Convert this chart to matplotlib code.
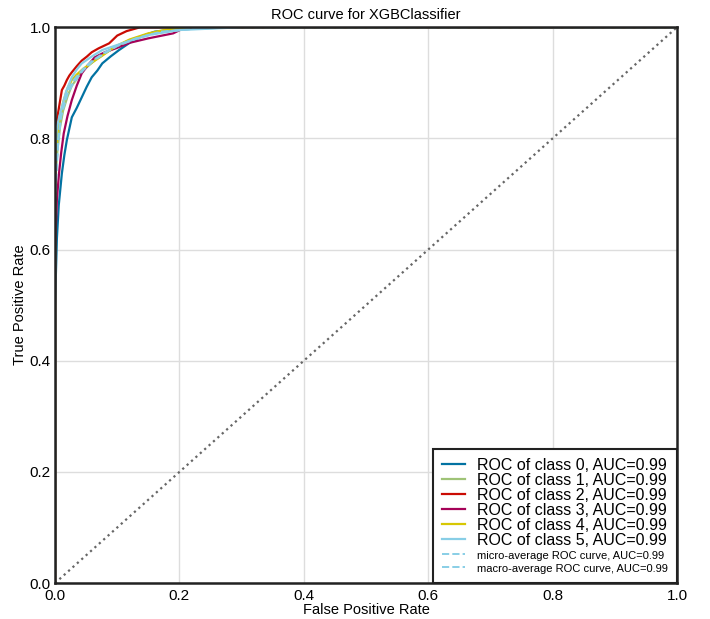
import matplotlib
matplotlib.use('Agg')
import matplotlib.pyplot as plt

plt.rcParams['font.family'] = ['Liberation Sans', 'DejaVu Sans']

# ROC points (fpr, tpr) per class
fpr_0 = [0, 0, 0.003, 0.006, 0.011, 0.015, 0.019, 0.027, 0.035, 0.043, 0.051, 0.059, 0.068, 0.076, 0.09, 0.103, 0.12, 0.14, 0.16, 0.2, 0.3, 1.0]
tpr_0 = [0, 0.50, 0.62, 0.68, 0.737, 0.77, 0.797, 0.838, 0.855, 0.874, 0.893, 0.91, 0.922, 0.935, 0.948, 0.959, 0.972, 0.984, 0.992, 0.997, 1.0, 1.0]

fpr_1 = [0, 0, 0.004, 0.008, 0.013, 0.02, 0.027, 0.035, 0.043, 0.055, 0.068, 0.08, 0.1, 0.12, 0.15, 0.18, 0.22, 1.0]
tpr_1 = [0, 0.72, 0.78, 0.82, 0.85, 0.875, 0.895, 0.907, 0.92, 0.932, 0.944, 0.953, 0.966, 0.977, 0.988, 0.995, 1.0, 1.0]

fpr_2 = [0, 0, 0.003, 0.007, 0.011, 0.015, 0.019, 0.023, 0.027, 0.035, 0.043, 0.051, 0.059, 0.07, 0.087, 0.1, 0.115, 0.137, 1.0]
tpr_2 = [0, 0.80, 0.833, 0.86, 0.887, 0.895, 0.905, 0.913, 0.919, 0.93, 0.94, 0.947, 0.955, 0.962, 0.971, 0.985, 0.993, 1.0, 1.0]

fpr_3 = [0, 0, 0.003, 0.0064, 0.01, 0.014, 0.02, 0.027, 0.035, 0.043, 0.053, 0.064, 0.08, 0.1, 0.12, 0.15, 0.19, 0.21, 1.0]
tpr_3 = [0, 0.60, 0.69, 0.737, 0.775, 0.809, 0.84, 0.869, 0.895, 0.917, 0.932, 0.946, 0.955, 0.963, 0.972, 0.98, 0.989, 1.0, 1.0]

fpr_4 = [0, 0, 0.004, 0.008, 0.013, 0.02, 0.027, 0.035, 0.045, 0.06, 0.075, 0.09, 0.1, 0.12, 0.15, 0.18, 0.22, 1.0]
tpr_4 = [0, 0.76, 0.81, 0.84, 0.865, 0.89, 0.905, 0.915, 0.925, 0.937, 0.948, 0.96, 0.967, 0.978, 0.989, 0.996, 1.0, 1.0]

fpr_5 = [0, 0, 0.003, 0.007, 0.011, 0.018, 0.027, 0.035, 0.043, 0.06, 0.076, 0.1, 0.124, 0.15, 0.2, 0.3, 1.0]
tpr_5 = [0, 0.78, 0.82, 0.84, 0.856, 0.885, 0.91, 0.924, 0.935, 0.948, 0.959, 0.968, 0.977, 0.986, 0.995, 1.0, 1.0]

fpr_micro = [0, 0, 0.005, 0.01, 0.02, 0.03, 0.045, 0.06, 0.08, 0.1, 0.13, 0.17, 0.25, 1.0]
tpr_micro = [0, 0.70, 0.80, 0.85, 0.885, 0.905, 0.925, 0.94, 0.955, 0.967, 0.98, 0.992, 1.0, 1.0]

fpr_macro = [0, 0, 0.005, 0.01, 0.02, 0.03, 0.045, 0.06, 0.08, 0.1, 0.13, 0.17, 0.25, 1.0]
tpr_macro = [0, 0.69, 0.79, 0.84, 0.88, 0.90, 0.922, 0.938, 0.953, 0.966, 0.979, 0.991, 1.0, 1.0]

aucs = [0.99, 0.99, 0.99, 0.99, 0.99, 0.99]
auc_micro = 0.99
auc_macro = 0.99

colors = ['#0272a2', '#9fc377', '#ca0b03', '#a50258', '#d7c703', '#88cee6']

curves = [(fpr_0, tpr_0), (fpr_1, tpr_1), (fpr_2, tpr_2),
          (fpr_3, tpr_3), (fpr_4, tpr_4), (fpr_5, tpr_5)]

fig = plt.figure(figsize=(7.1, 6.19), dpi=100)
ax = fig.add_axes([0.0775, 0.058, 0.876, 0.898])

for i, (f, t) in enumerate(curves):
    ax.plot(f, t, color=colors[i], lw=1.6, label='ROC of class {}, AUC={:.2f}'.format(i, aucs[i]))

ax.plot(fpr_micro, tpr_micro, linestyle='--', color=colors[-1], lw=1.4,
        label='micro-average ROC curve, AUC={:.2f}'.format(auc_micro))
ax.plot(fpr_macro, tpr_macro, linestyle='--', color=colors[-1], lw=1.4,
        label='macro-average ROC curve, AUC={:.2f}'.format(auc_macro))

ax.plot([0, 1], [0, 1], linestyle=':', color='#666666', lw=1.6)

ax.set_xlim(0, 1)
ax.set_ylim(0, 1)
ax.set_xticks([0, 0.2, 0.4, 0.6, 0.8, 1.0])
ax.set_yticks([0, 0.2, 0.4, 0.6, 0.8, 1.0])
ax.tick_params(length=0, labelsize=11)
ax.tick_params(axis='x', pad=4)
ax.tick_params(axis='y', pad=3)
ax.grid(True, color='#dddddd', lw=1)
ax.set_axisbelow(True)
for s in ax.spines.values():
    s.set_color('#222222')
    s.set_linewidth(1.8)

ax.set_title('ROC curve for XGBClassifier', fontsize=10.5, pad=6)
ax.set_xlabel('False Positive Rate', fontsize=10.5, labelpad=0)
ax.set_ylabel('True Positive Rate', fontsize=10.5, labelpad=2)

leg = ax.legend(loc='lower right', fontsize=11.5, frameon=True, fancybox=False,
                framealpha=1, edgecolor='#222222', borderaxespad=0,
                labelspacing=0.0, handlelength=1.4, handletextpad=0.8,
                borderpad=0.55)
leg.get_frame().set_linewidth(1.5)
for txt in leg.get_texts()[6:]:
    txt.set_fontsize(8)

plt.savefig('out.png', dpi=100)
plt.close()
